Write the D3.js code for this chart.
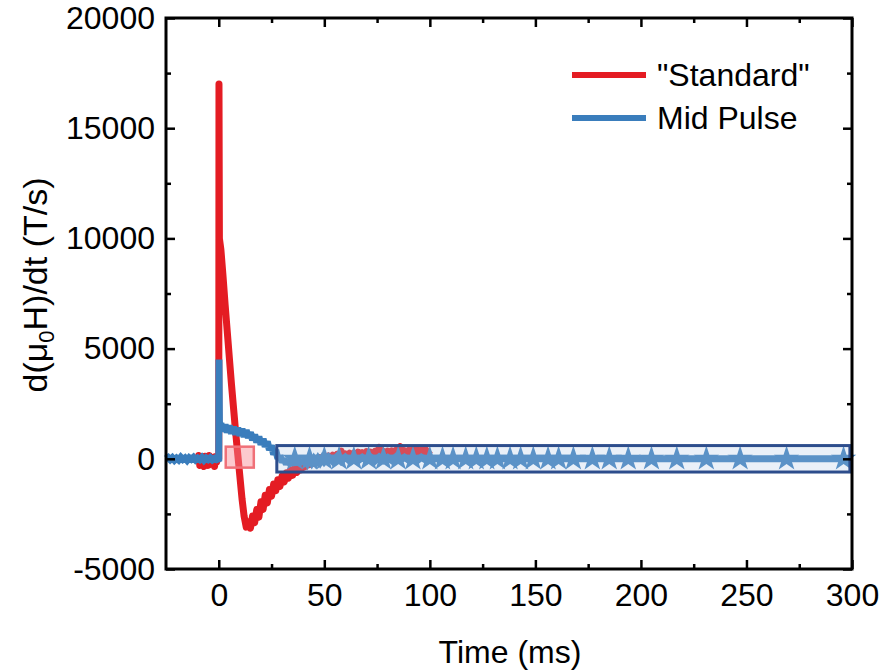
<!DOCTYPE html>
<html lang="en">
<head>
<meta charset="UTF-8">
<title>dH/dt pulses</title>
<script src="https://d3js.org/d3.v7.min.js"></script>
<style>
  body { margin: 0; background: #fff; }
  text { font-family: "Liberation Sans", Arial, sans-serif; }
</style>
</head>
<body>
<div id="chart"></div>
<script>
// ---- data ----
// "Standard" pulse, time (ms) and d(mu0 H)/dt (T/s)
const redT = [-10,-9.5,-9,-8.5,-8,-7.5,-7,-6.5,-6,-5.5,-5,-4.5,-4,-3.5,-3,-2.5,-2,-1.5,-1,-0.5,0,
  0.1,0.3,1,2,3,4,5,6,7,8,9,10,11,12,13,
  14,15,16,17,18,19,20,21,22,23,24,25,26,27,28,29,30,31,32,33,34,35,36,37,38,39,40,
  41,42,43,44,45,46,47,48,49,50,51,52,53,54,55,56,57,58,59,60,61,62,63,64,65,66,67,68,69,70,
  71,72,73,74,75,76,77,78,79,80,81,82,83,84,85,86,87,88,89,90,91,92,93,94,95,96,97,98,99,100];
const redV = [-100,150,-300,100,-200,50,-350,120,-150,-50,-300,150,-250,80,-200,0,-350,100,-150,50,0,
  17000,10000,9500,8300,7000,5800,4600,3400,2300,1200,200,-800,-1800,-2600,-3100,
  -2850,-3150,-2600,-2900,-2300,-2650,-1950,-2300,-1650,-2000,-1400,-1700,-1150,-1450,-950,-1250,-780,-1050,-630,-880,-500,-750,-400,-620,-300,-500,-200,
  -350,-130,-260,-60,-200,0,-150,50,-90,80,-40,130,0,160,30,200,60,350,80,220,90,250,100,260,110,300,120,280,130,320,
  140,300,150,330,160,520,150,340,170,350,180,360,160,380,190,550,170,370,200,380,190,420,210,390,200,400,220,410,230,380];

// "Mid Pulse"
const blueT = [-25,-24,-23,-22,-21,-20,-19,-18,-17,-16,-15,-14,-13,-12,-11,-10,-9,-8,-7,-6,-5,-4,-3,-2,-1,0,
  0.1,0.3,0.6,1,2,3,4,5,6,7,8,9,10,11,12,13,14,15,16,17,18,19,20,21,22,23,24,25,26,27,28,29,30,
  31,32,33,34,35,36,37,38,39,40,41,42,43,44,45,46,47,48,49,50,52,54,56,58,60,62,64,66,68,70,
  72,74,76,78,80,82,84,86,88,90,92,94,96,98,100,300];
const blueV = [0,60,-40,50,-60,30,-50,70,-30,40,-70,50,-20,60,-50,30,-40,60,-60,40,-30,50,-50,20,-40,0,
  4500,1700,1450,1600,1250,1550,1200,1500,1150,1450,1100,1400,1050,1350,1000,1300,950,1200,850,1100,750,1000,650,900,550,780,400,600,200,400,0,150,-150,
  0,-250,-50,-280,-80,-260,-60,-240,-50,-220,-40,-200,-30,-180,-20,-170,0,-150,10,-130,80,-120,90,-110,70,-100,80,-90,60,-80,
  70,-90,80,-70,60,-80,90,-60,70,-70,60,-80,70,-50,0,0];

// bursts of noise on the Mid Pulse trace (ms)
const burstT = [36,43,50,57,64,71,78,85,92,100,106,111,117,122,127,132,138,143,149,156,161,168,177,185,194,205,217,231,247,269,296];

// highlighted windows: [t0, t1, v0, v1]
const zoomBox = [27.5, 299, -600, 600];
const pinkBox = [3.3, 16.6, -400, 550];

const xMajor = [0, 50, 100, 150, 200, 250, 300];
const xMinor = [25, 75, 125, 175, 225, 275];
const yMajor = [-5000, 0, 5000, 10000, 15000, 20000];
const yMinor = [-2500, 2500, 7500, 12500, 17500];

const seriesNames = ['"Standard"', 'Mid Pulse'];
const red = '#e41c23';
const blue = '#3a7dbc';

// ---- chart ----
const W = 883, H = 670;
const svg = d3.select('#chart').append('svg')
  .attr('width', W).attr('height', H);

const x = d3.scaleLinear().domain([-25, 300]).range([166, 852]);
const y = d3.scaleLinear().domain([-5000, 20000]).range([569, 18]);

const line = d3.line().x(d => x(d[0])).y(d => y(d[1]));

svg.append('path')
  .datum(redT.map((t, i) => [t, redV[i]]))
  .attr('d', line)
  .attr('fill', 'none')
  .attr('stroke', red)
  .attr('stroke-width', 7)
  .attr('stroke-linejoin', 'round');

svg.append('path')
  .datum(blueT.map((t, i) => [t, blueV[i]]))
  .attr('d', line)
  .attr('fill', 'none')
  .attr('stroke', blue)
  .attr('stroke-width', 7)
  .attr('stroke-miterlimit', 2);

svg.append('g').selectAll('path')
  .data(burstT)
  .join('path')
  .attr('transform', d => `translate(${x(d)},${y(0)})`)
  .attr('d', d3.symbol(d3.symbolStar, 200))
  .attr('fill', blue);

// highlight boxes
svg.append('rect')
  .attr('x', x(pinkBox[0])).attr('y', y(pinkBox[3]))
  .attr('width', x(pinkBox[1]) - x(pinkBox[0]))
  .attr('height', y(pinkBox[2]) - y(pinkBox[3]))
  .attr('fill', '#f98a92').attr('fill-opacity', 0.45)
  .attr('stroke', '#f07078').attr('stroke-width', 2.5);

svg.append('rect')
  .attr('x', x(zoomBox[0])).attr('y', y(zoomBox[3]))
  .attr('width', x(zoomBox[1]) - x(zoomBox[0]))
  .attr('height', y(zoomBox[2]) - y(zoomBox[3]))
  .attr('fill', '#b4c8e6').attr('fill-opacity', 0.28)
  .attr('stroke', '#2d4d8c').attr('stroke-width', 3);

// axes, ticks inward on all four sides
function styleAxis(g) {
  g.select('.domain').remove();
  g.selectAll('line').attr('stroke', '#000').attr('stroke-width', 2.5);
  g.selectAll('text').attr('font-size', 32).attr('fill', '#000')
    .style('font-family', '"Liberation Sans", Arial, sans-serif');
}
const plain = d => String(d);

svg.append('g').attr('transform', `translate(0,${y(-5000)})`)
  .call(d3.axisBottom(x).tickValues(xMajor).tickSize(-9).tickPadding(14).tickFormat(plain))
  .call(styleAxis);
svg.append('g').attr('transform', `translate(0,${y(-5000)})`)
  .call(d3.axisBottom(x).tickValues(xMinor).tickSize(-5).tickFormat(''))
  .call(styleAxis);
svg.append('g').attr('transform', `translate(0,${y(20000)})`)
  .call(d3.axisTop(x).tickValues(xMajor).tickSize(-9).tickFormat(''))
  .call(styleAxis);
svg.append('g').attr('transform', `translate(0,${y(20000)})`)
  .call(d3.axisTop(x).tickValues(xMinor).tickSize(-5).tickFormat(''))
  .call(styleAxis);

svg.append('g').attr('transform', `translate(${x(-25)},0)`)
  .call(d3.axisLeft(y).tickValues(yMajor).tickSize(-9).tickPadding(11).tickFormat(plain))
  .call(styleAxis);
svg.append('g').attr('transform', `translate(${x(-25)},0)`)
  .call(d3.axisLeft(y).tickValues(yMinor).tickSize(-5).tickFormat(''))
  .call(styleAxis);
svg.append('g').attr('transform', `translate(${x(300)},0)`)
  .call(d3.axisRight(y).tickValues(yMajor).tickSize(-9).tickFormat(''))
  .call(styleAxis);
svg.append('g').attr('transform', `translate(${x(300)},0)`)
  .call(d3.axisRight(y).tickValues(yMinor).tickSize(-5).tickFormat(''))
  .call(styleAxis);

svg.append('rect')
  .attr('x', x(-25)).attr('y', y(20000))
  .attr('width', x(300) - x(-25)).attr('height', y(-5000) - y(20000))
  .attr('fill', 'none').attr('stroke', '#000').attr('stroke-width', 3);

// axis titles
svg.append('text')
  .attr('x', 510).attr('y', 663)
  .attr('text-anchor', 'middle').attr('font-size', 32)
  .text('Time (ms)');

const yt = svg.append('text')
  .attr('transform', 'translate(47,285) rotate(-90)')
  .attr('text-anchor', 'middle').attr('font-size', 34);
yt.append('tspan').text('d(μ');
yt.append('tspan').attr('font-size', 22).attr('dy', 7).text('0');
yt.append('tspan').attr('dy', -7).text('H)/dt (T/s)');

// legend
const legend = svg.append('g');
[red, blue].forEach((c, i) => {
  const ly = 75 + i * 43;
  legend.append('line')
    .attr('x1', 572).attr('x2', 646).attr('y1', ly).attr('y2', ly)
    .attr('stroke', c).attr('stroke-width', 6);
  legend.append('text')
    .attr('x', 657).attr('y', ly + 11)
    .attr('font-size', 32)
    .text(seriesNames[i]);
});
</script>
</body>
</html>
